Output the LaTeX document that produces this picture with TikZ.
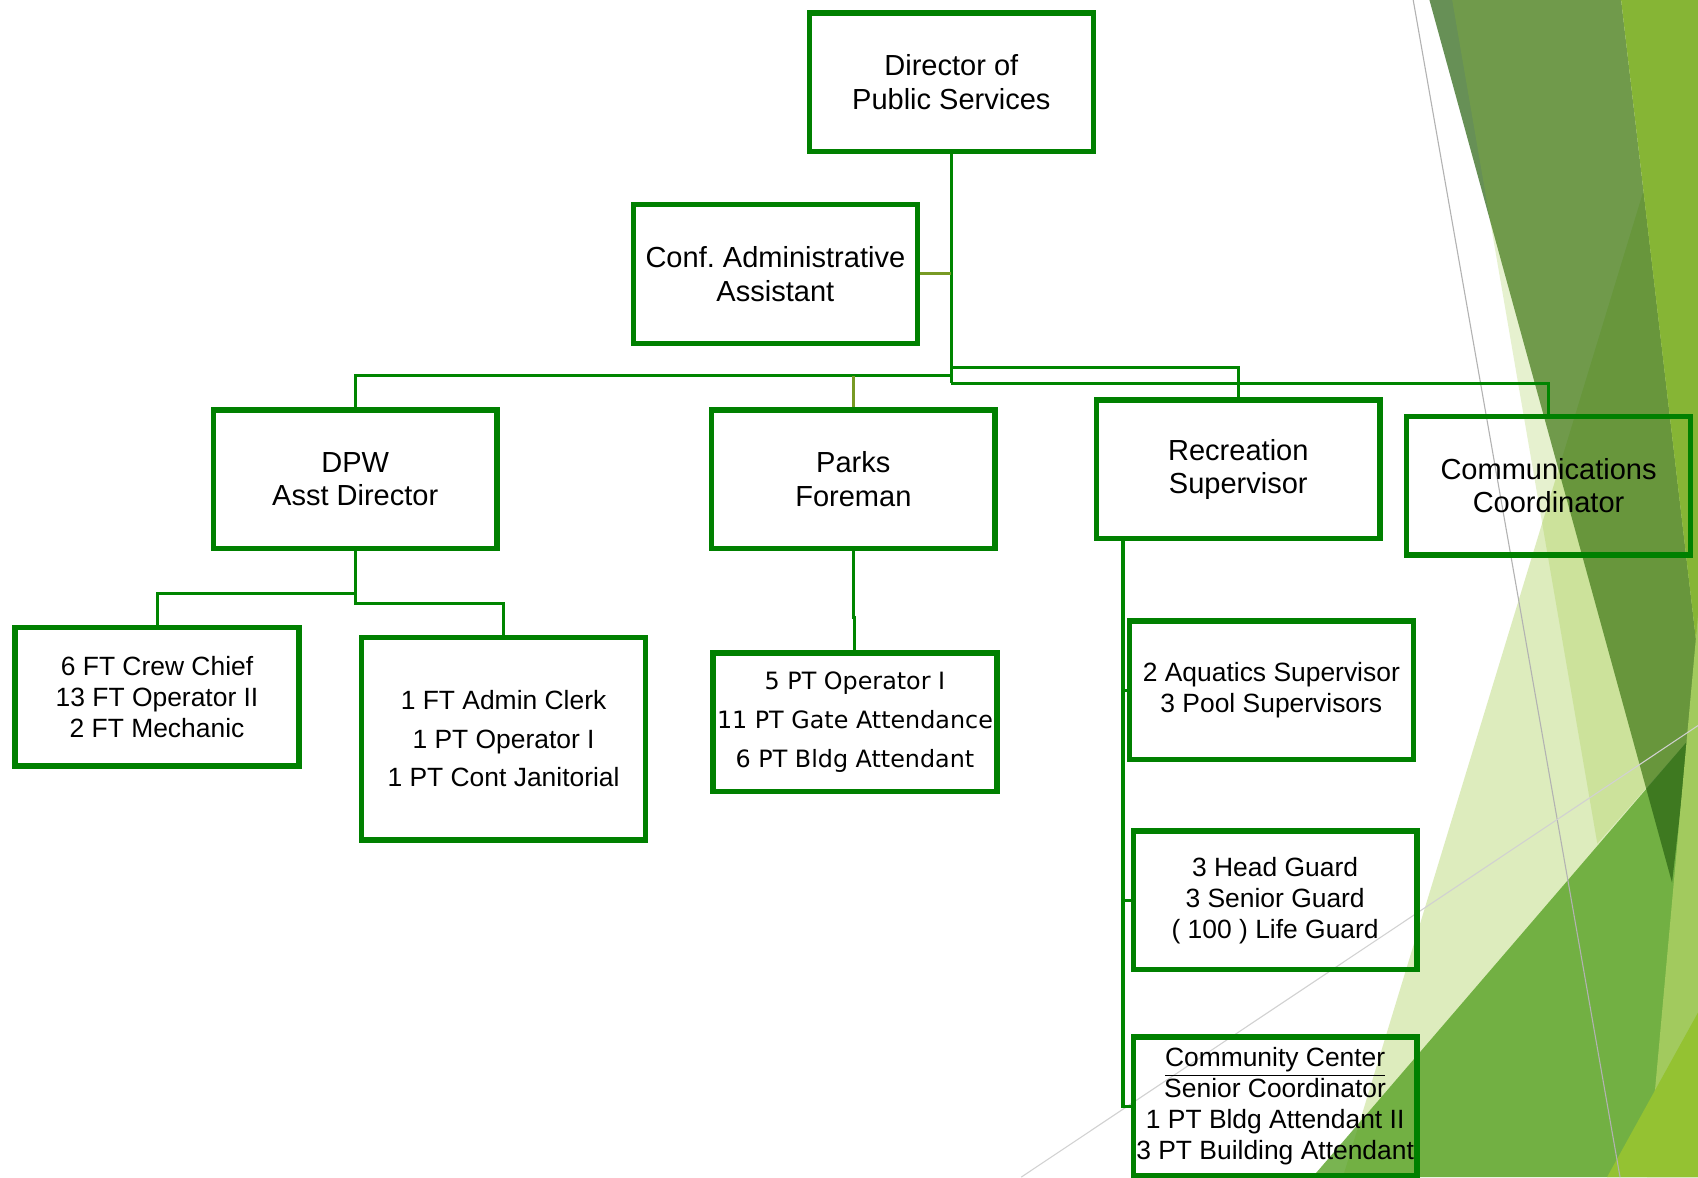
\documentclass[tikz,border=0pt]{standalone}
\usepackage{fontspec}
\setmainfont{Liberation Sans}
\newfontfamily\parksfont{DejaVu Sans}
\frenchspacing

\definecolor{boxgreen}{RGB}{0,128,0}
\definecolor{linkgreen}{RGB}{0,133,0}
\definecolor{olivelink}{RGB}{120,154,36}
\definecolor{facetA}{RGB}{144,194,38}
\definecolor{facetB}{RGB}{84,160,33}
\definecolor{facetDark}{RGB}{41,99,18}
\definecolor{facetLime}{RGB}{134,181,53}
\definecolor{facetLight}{RGB}{162,202,94}
\definecolor{facetYellow}{RGB}{148,194,50}

\begin{document}
\begin{tikzpicture}[x=0.5pt,y=-0.5pt,
	main/.style = {draw=boxgreen, line width=2.5pt, minimum width=131pt, minimum height=64pt,
		inner sep=0pt, align=center, font=\fontsize{13.4pt}{15.5pt}\selectfont},
	staff/.style = {main, font=\fontsize{12.2pt}{14.2pt}\selectfont},
	link/.style = {draw=linkgreen, line width=1.4pt},
	minor link/.style = {link, draw=olivelink}]
	\useasboundingbox (0,0) rectangle (1568,1087);
	\fill[white] (0,0) rectangle (1568,1087);
	% facet background
	\begin{scope}
		\clip (0,0) rectangle (1568,1087);
		\fill[facetA, opacity=.3] (1568,11) -- (1240,1087) -- (1568,1087) -- cycle;
		\fill[facetB, opacity=.78] (1212,1087) -- (1568,673) -- (1568,1087) -- cycle;
		\fill[facetDark, opacity=.71] (1320,0) -- (1497,0) -- (1568,607) -- (1544,815) -- cycle;
		\fill[facetA, opacity=.22] (1341,0) -- (1475,779) -- (1568,673) -- (1568,0) -- cycle;
		\fill[facetLime] (1497,0) -- (1568,0) -- (1568,607) -- cycle;
		\fill[facetLight] (1568,568) -- (1521,1087) -- (1568,1087) -- cycle;
		\fill[facetYellow] (1484,1087) -- (1568,935) -- (1568,1087) -- cycle;
		\draw[black!30, line width=.5pt] (1305,0) -- (1496,1087);
		\draw[black!18, line width=.5pt] (943,1087) -- (1568,670);
	\end{scope}

	\node[main] (director) at (878.5,76) {Director of\\Public Services};
	\node[main] (conf) at (716,253) {Conf. Administrative\\Assistant};
	\node[main] (dpw) at (328,442.5) {DPW\\Asst Director};
	\node[main] (parks) at (788,442.5) {Parks\\Foreman};
	\node[main] (rec) at (1143.5,433.5) {Recreation\\Supervisor};
	\node[main] (comm) at (1430,448.5) {Communications\\Coordinator};
	\node[staff] (crew) at (145,643.5) {6 FT Crew Chief\\13 FT Operator II\\2 FT Mechanic};
	\node[staff, minimum height=93.5pt, font=\fontsize{12.2pt}{17.75pt}\selectfont] (clerk) at (465,682) {1 FT Admin Clerk\\1 PT Operator I\\1 PT Cont Janitorial};
	\node[staff, font=\parksfont\fontsize{11pt}{18pt}\selectfont] (parkscrew) at (789.5,667) {5 PT Operator I\\11 PT Gate Attendance\\6 PT Bldg Attendant};
	\node[staff] (aquatics) at (1174,637.5) {2 Aquatics Supervisor\\3 Pool Supervisors};
	\node[staff] (guards) at (1177.5,831.5) {3 Head Guard\\3 Senior Guard\\( 100 ) Life Guard};
	\node[staff] (center) at (1177.5,1021.5) {\underline{Community Center}\\Senior Coordinator\\1 PT Bldg Attendant II\\3 PT Building Attendant};

	\coordinate (recbus) at (878.5,339);
	\coordinate (dpwbus) at (878.5,347);
	\coordinate (commbus) at (878.5,354);
	\draw[link] (director.south) -- (commbus);
	\draw[minor link] (conf.east) -- (conf.east -| director.south);
	\draw[link] (dpw.north) |- (dpwbus);
	\draw[minor link] (parks.north) -- (parks.north |- dpwbus);
	\draw[link] (rec.north) |- (recbus);
	\draw[link] (comm.north) |- (commbus);

	\coordinate (crewbus) at (328,548);
	\coordinate (clerkbus) at (328,557);
	\draw[link] (dpw.south) -- (clerkbus) -| (clerk.north);
	\draw[link] (crew.north) |- (crewbus);

	\coordinate (parksjog) at (788,570);
	\draw[link] (parks.south) -- (parksjog) -| (parkscrew.north);

	\coordinate (recdrop) at ([xshift=13.5pt]rec.south west);
	\draw[link] (recdrop) |- (center.west);
	\draw[link] (guards.west) -- (guards.west -| recdrop);
	\draw[link] (aquatics.west) -- (aquatics.west -| recdrop);
\end{tikzpicture}
\end{document}
